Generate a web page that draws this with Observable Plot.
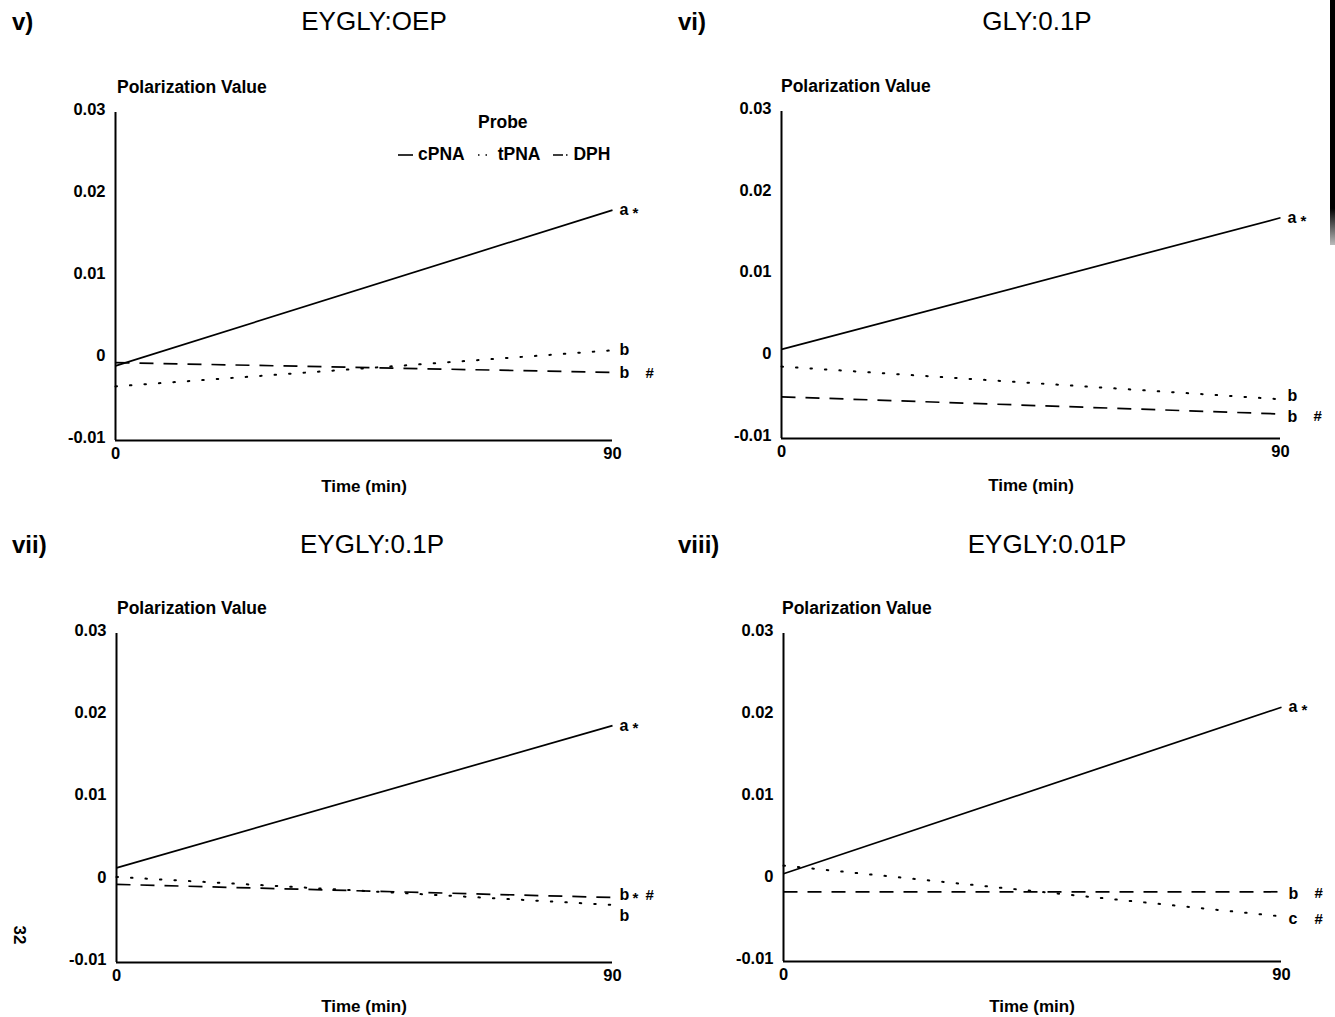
<!DOCTYPE html>
<html>
<head>
<meta charset="utf-8">
<script src="https://cdn.jsdelivr.net/npm/d3@7"></script>
<script src="https://cdn.jsdelivr.net/npm/@observablehq/plot@0.6"></script>
<style>
  html, body { margin: 0; padding: 0; background: #fff; }
  body { width: 1335px; height: 1017px; position: relative; overflow: hidden; font-family: "Liberation Sans", Arial, sans-serif; color: #000; }
  .abs { position: absolute; white-space: nowrap; }
  .plabel { font-size: 24px; font-weight: bold; }
  .ptitle { font-size: 26px; transform: translateX(-50%); }
  .ylab { font-size: 17.5px; font-weight: bold; }
  .xlab { font-size: 17px; font-weight: bold; transform: translateX(-50%); }
  .legend { font-size: 17.5px; font-weight: bold; }
</style>
</head>
<body>
<div id="root"></div>
<script>
// ---------------- data ----------------
const time = [0, 90];
const panelLabels = ["v)", "vi)", "vii)", "viii)"];
const panelTitles = ["EYGLY:OEP", "GLY:0.1P", "EYGLY:0.1P", "EYGLY:0.01P"];
const probes = ["cPNA", "tPNA", "DPH"];
const cPNA = [[-0.0009, 0.0181], [0.0009, 0.0170], [0.0015, 0.0188], [0.0007, 0.0210]];
const tPNA = [[-0.0034, 0.0010], [-0.0012, -0.0052], [0.0004, -0.0030], [0.0017, -0.0045]];
const DPH  = [[-0.0005, -0.0017], [-0.0049, -0.0070], [-0.0005, -0.0021], [-0.0015, -0.0015]];
const annLetters = [["a", "b", "b"], ["a", "b", "b"], ["a", "b", "b"], ["a", "b", "c"]];
const annStar = [[1, 0, 0], [1, 0, 0], [1, 1, 0], [1, 0, 0]];
const annHash = [[0, 0, 1], [0, 0, 1], [0, 1, 0], [0, 1, 1]];
const annY = [[0.0181, 0.0010, -0.0018], [0.0170, -0.0048, -0.0073], [0.0188, -0.0018, -0.0043], [0.0210, -0.0017, -0.0048]];
const yTicks = [-0.01, 0, 0.01, 0.02, 0.03];
const xTicks = [0, 90];
const yLabel = "Polarization Value";
const xLabel = "Time (min)";
const legendTitle = "Probe";

// ---------------- layout ----------------
const layout = [
  {left: 0,   top: 70,  ml: 115, mr: 55, mt: 42, mb: 40, lx: 12,  ly: 8,   tx: 374,  ty: 6,   yx: 117, yy: 77,  xx: 364,  xy: 477},
  {left: 667, top: 70,  ml: 114, mr: 54, mt: 41, mb: 42, lx: 678, ly: 8,   tx: 1037, ty: 6,   yx: 781, yy: 76,  xx: 1031, xy: 476},
  {left: 0,   top: 590, ml: 116, mr: 55, mt: 43, mb: 38, lx: 12,  ly: 531, tx: 372,  ty: 529, yx: 117, yy: 598, xx: 364,  xy: 997},
  {left: 667, top: 590, ml: 116, mr: 53, mt: 43, mb: 39, lx: 678, ly: 531, tx: 1047, ty: 529, yx: 782, yy: 598, xx: 1032, xy: 997}
];
const W = 667, H = 410;
const dash = {cPNA: null, tPNA: "1.5,13", DPH: "14,10"};

const body = document.body;
function addText(cls, txt, x, y) {
  const d = document.createElement("div");
  d.className = "abs " + cls;
  d.textContent = txt;
  d.style.left = x + "px";
  d.style.top = y + "px";
  body.appendChild(d);
  return d;
}

layout.forEach((L, i) => {
  const series = [];
  probes.forEach(p => {
    const vals = p === "cPNA" ? cPNA[i] : p === "tPNA" ? tPNA[i] : DPH[i];
    time.forEach((t, k) => series.push({probe: p, t, v: vals[k]}));
  });
  const ann = annLetters[i].map((l, k) => ({t: 90, y: annY[i][k], l, star: annStar[i][k], hash: annHash[i][k]}));

  const marks = [
    Plot.ruleX([0], {y1: -0.01, y2: 0.03, stroke: "#000", strokeWidth: 2}),
    Plot.ruleY([-0.01], {x1: 0, x2: 90, stroke: "#000", strokeWidth: 2}),
    Plot.axisY(yTicks, {tickSize: 0, tickPadding: 10, fontSize: 16.5, fontWeight: "bold", dy: -3,
      tickFormat: d => d === 0 ? "0" : d.toFixed(2), label: null}),
    Plot.axisX(xTicks, {tickSize: 0, tickPadding: 7, fontSize: 16.5, fontWeight: "bold", label: null}),
    ...probes.map(p => Plot.line(series.filter(d => d.probe === p), {
      x: "t", y: "v", stroke: "#000",
      strokeWidth: p === "tPNA" ? 2 : 1.7,
      strokeDasharray: dash[p],
      strokeLinecap: p === "tPNA" ? "round" : "butt"
    })),
    Plot.text(ann, {x: "t", y: "y", text: "l", textAnchor: "start", dx: 7, fontSize: 16, fontWeight: "bold", fill: "#000"}),
    Plot.text(ann.filter(d => d.star), {x: "t", y: "y", text: () => "*", textAnchor: "start", dx: 20, dy: 3, fontSize: 15, fontWeight: "bold", fill: "#000"}),
    Plot.text(ann.filter(d => d.hash), {x: "t", y: "y", text: () => "#", textAnchor: "start", dx: 33, fontSize: 15, fontWeight: "bold", fill: "#000"})
  ];

  const chart = Plot.plot({
    width: W, height: H,
    marginLeft: L.ml, marginRight: L.mr, marginTop: L.mt, marginBottom: L.mb,
    style: {fontFamily: "Liberation Sans, Arial, sans-serif", color: "#000", background: "transparent"},
    x: {domain: [0, 90]},
    y: {domain: [-0.01, 0.03]},
    marks
  });
  chart.style.position = "absolute";
  chart.style.left = L.left + "px";
  chart.style.top = L.top + "px";
  body.appendChild(chart);

  addText("plabel", panelLabels[i], L.lx, L.ly);
  addText("ptitle", panelTitles[i], L.tx, L.ty);
  addText("ylab", yLabel, L.yx, L.yy);
  addText("xlab", xLabel, L.xx, L.xy);
});

// legend (panel v)
addText("legend", legendTitle, 478, 112);
const leg = document.createElement("div");
leg.className = "abs legend";
leg.style.left = "397px";
leg.style.top = "144px";
leg.style.display = "flex";
leg.style.alignItems = "center";
const sampleDash = {cPNA: null, tPNA: "1.5,6", DPH: "10,3,1.5,3"};
probes.forEach((p, k) => {
  const ns = "http://www.w3.org/2000/svg";
  const s = document.createElementNS(ns, "svg");
  s.setAttribute("width", "17");
  s.setAttribute("height", "12");
  s.style.marginLeft = k === 0 ? "0px" : "12px";
  s.style.marginRight = "4px";
  const ln = document.createElementNS(ns, "line");
  ln.setAttribute("x1", "1"); ln.setAttribute("x2", "16");
  ln.setAttribute("y1", "6"); ln.setAttribute("y2", "6");
  ln.setAttribute("stroke", "#000");
  ln.setAttribute("stroke-width", "1.6");
  if (sampleDash[p]) ln.setAttribute("stroke-dasharray", sampleDash[p]);
  s.appendChild(ln);
  leg.appendChild(s);
  const t = document.createElement("span");
  t.textContent = p;
  leg.appendChild(t);
});
body.appendChild(leg);

// page number
const pn = addText("legend", "32", 10, 925);
pn.style.fontSize = "17px";
pn.style.transform = "rotate(90deg)";

// scan edge bar
const bar = document.createElement("div");
bar.className = "abs";
bar.style.left = "1330px"; bar.style.top = "0px";
bar.style.width = "5px"; bar.style.height = "245px";
bar.style.background = "linear-gradient(#000 85%, #bbb)";
body.appendChild(bar);
</script>
</body>
</html>
